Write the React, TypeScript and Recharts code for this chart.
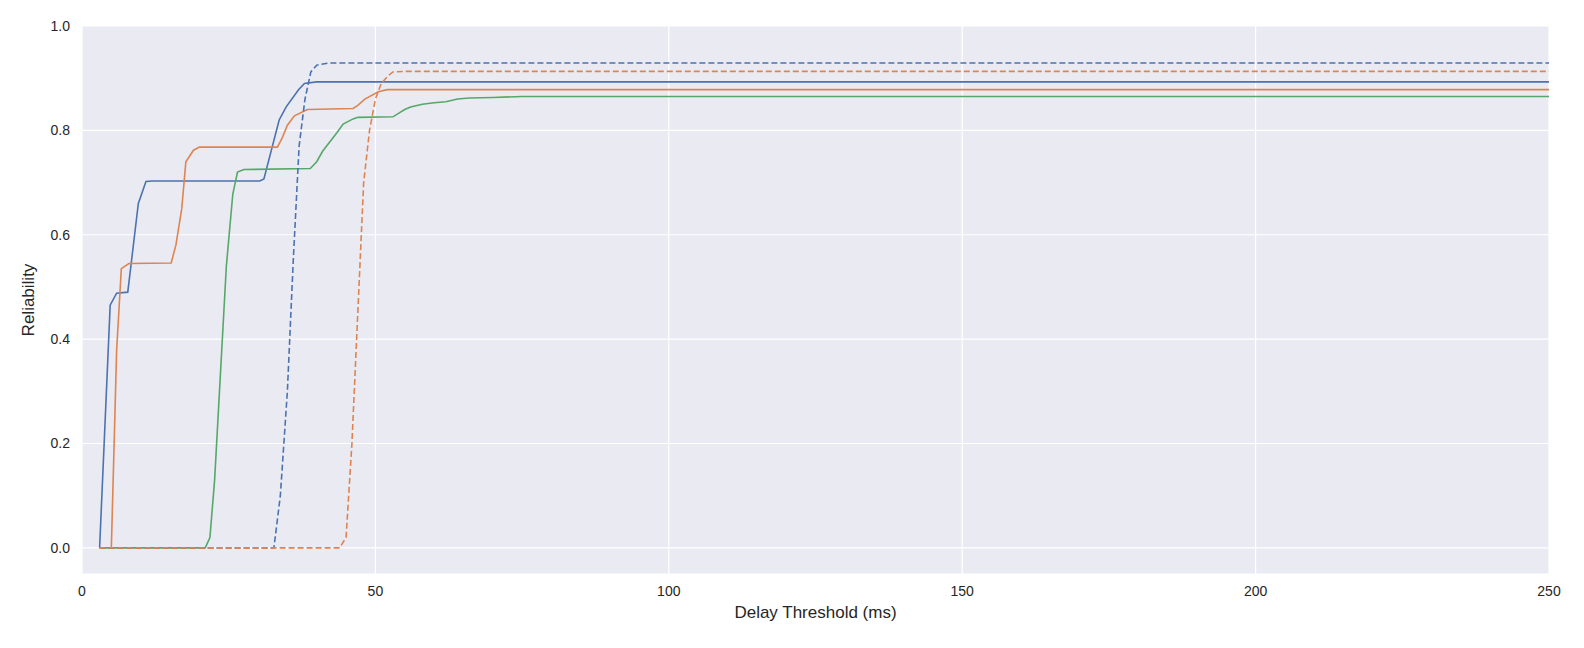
import { LineChart, Line, XAxis, YAxis, CartesianGrid, Label } from "recharts";

// [delay ms, reliability]
const blueSolid = [[3,0],[4.8,0.465],[5.9,0.488],[7.8,0.49],[9.6,0.66],[10.9,0.702],[12,0.703],[30.3,0.703],[31,0.707],[33.6,0.82],[34.8,0.845],[36.9,0.878],[37.9,0.89],[40,0.893],[250,0.893]];
const orangeSolid = [[5,0],[5.9,0.378],[6.7,0.535],[8,0.545],[15.2,0.546],[16,0.58],[17,0.65],[17.7,0.74],[19,0.762],[20,0.768],[33.3,0.768],[34.1,0.785],[35,0.81],[36.2,0.828],[38.4,0.84],[46.2,0.842],[47,0.848],[48.2,0.86],[50.5,0.874],[52,0.878],[250,0.878]];
const greenSolid = [[3,0],[21,0],[21.8,0.02],[22.6,0.13],[24.6,0.54],[25.7,0.678],[26.5,0.72],[27.6,0.725],[38.9,0.727],[40,0.74],[41,0.76],[43.4,0.795],[44.5,0.812],[46.2,0.822],[47,0.825],[53,0.826],[54,0.833],[55,0.84],[56,0.845],[58,0.85],[60,0.853],[62,0.855],[64,0.86],[66,0.862],[70,0.863],[75,0.865],[250,0.865]];
const blueDashed = [[3,0],[32.7,0],[33.8,0.1],[35,0.3],[36,0.55],[37,0.77],[38,0.86],[39,0.912],[40,0.925],[42,0.929],[250,0.929]];
const orangeDashed = [[3,0],[43.9,0],[45,0.02],[46,0.2],[47,0.45],[48,0.7],[49,0.8],[50,0.86],[51,0.89],[52.2,0.905],[53,0.912],[55,0.913],[250,0.913]];
const xTicks = [0, 50, 100, 150, 200, 250];
const yTicks = [0, 0.2, 0.4, 0.6, 0.8, 1.0];

const toRows = (pts: number[][]) => pts.map(([x, y]) => ({ x, y }));

const series = [
  { name: "blueSolid", data: blueSolid, color: "#4c72b0", dash: undefined },
  { name: "orangeSolid", data: orangeSolid, color: "#dd8452", dash: undefined },
  { name: "greenSolid", data: greenSolid, color: "#55a868", dash: undefined },
  { name: "blueDashed", data: blueDashed, color: "#4c72b0", dash: "6 3" },
  { name: "orangeDashed", data: orangeDashed, color: "#dd8452", dash: "6 3" },
];

const tick = { fill: "#262626", fontSize: 14 };

export default function App() {
  return (
    <div style={{ position: "absolute", left: 0, top: 0, fontFamily: "Liberation Sans, Arial, sans-serif", background: "#fff" }}>
      <LineChart width={1584} height={648} margin={{ top: 26, right: 35, left: 0, bottom: 0 }}>
        <CartesianGrid fill="#eaeaf2" stroke="#ffffff" strokeWidth={1.2} />
        <XAxis type="number" dataKey="x" domain={[0, 250]} ticks={xTicks} allowDataOverflow
          axisLine={false} tickLine={false} tick={tick} height={74} tickMargin={6}>
          <Label value="Delay Threshold (ms)" position="insideTop" offset={32} style={{ fill: "#262626", fontSize: 17 }} />
        </XAxis>
        <YAxis type="number" domain={[-0.05, 1]} ticks={yTicks} allowDataOverflow
          axisLine={false} tickLine={false} tick={tick} width={82} tickMargin={6}
          tickFormatter={(v: number) => v.toFixed(1)}>
          <Label value="Reliability" angle={-90} position="insideLeft" offset={28} style={{ fill: "#262626", fontSize: 17, textAnchor: "middle" }} />
        </YAxis>
        {series.map((s) => (
          <Line key={s.name} data={toRows(s.data)} dataKey="y" type="linear" stroke={s.color}
            strokeWidth={1.6} strokeDasharray={s.dash} dot={false} isAnimationActive={false} />
        ))}
      </LineChart>
    </div>
  );
}
